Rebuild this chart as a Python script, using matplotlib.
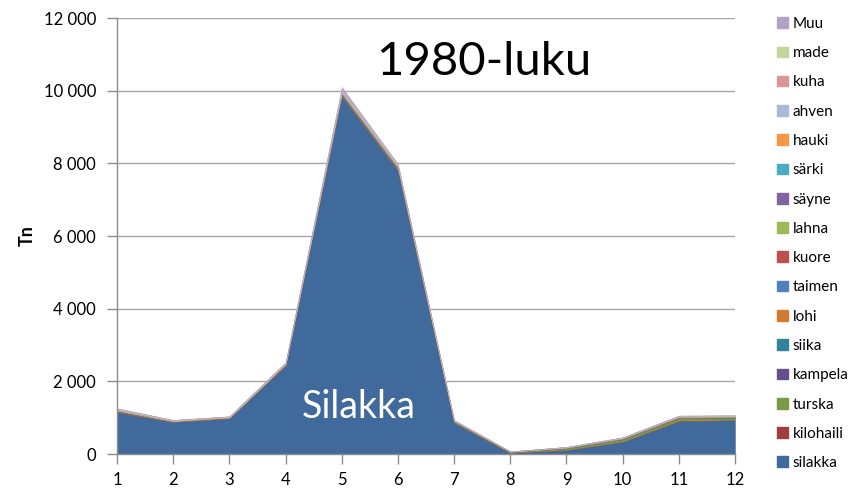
import matplotlib
matplotlib.use("Agg")
import matplotlib.pyplot as plt
from matplotlib.ticker import FuncFormatter
import matplotlib.patches as mpatches

plt.rcParams['font.family'] = ['Lato', 'DejaVu Sans']

months = [1, 2, 3, 4, 5, 6, 7, 8, 9, 10, 11, 12]
species = ["silakka", "kilohaili", "turska", "kampela", "siika", "lohi", "taimen",
           "kuore", "lahna", "säyne", "särki", "hauki", "ahven", "kuha", "made", "Muu"]
colors = ["#40699C", "#A23E3B", "#7A9A45", "#644F8A", "#31849B", "#D27A30", "#4F81BD",
          "#C0504D", "#9BBB59", "#8064A2", "#4BACC6", "#F79646", "#A8B9DA", "#D99694",
          "#C3D69B", "#B3A2C7"]

silakka   = [1150, 880, 980, 2430, 9850, 7800, 860, 30, 110, 330, 900, 930]
kilohaili = [10, 5, 5, 10, 10, 10, 5, 3, 8, 15, 20, 15]
turska    = [20, 10, 10, 15, 40, 40, 25, 20, 40, 60, 70, 55]
kampela   = [2, 2, 2, 2, 5, 5, 2, 1, 2, 3, 4, 3]
siika     = [3, 2, 2, 3, 5, 5, 3, 2, 3, 5, 6, 5]
lohi      = [2, 1, 1, 2, 3, 3, 1, 1, 2, 3, 3, 3]
taimen    = [1, 1, 1, 1, 2, 2, 1, 1, 1, 2, 2, 2]
kuore     = [5, 3, 3, 5, 10, 10, 5, 2, 5, 6, 6, 6]
lahna     = [5, 3, 3, 5, 10, 10, 5, 3, 5, 6, 6, 6]
sayne     = [1, 1, 1, 1, 2, 2, 1, 1, 1, 2, 2, 2]
sarki     = [2, 1, 1, 2, 5, 5, 2, 1, 2, 3, 3, 3]
hauki     = [5, 3, 3, 5, 10, 10, 5, 2, 4, 5, 5, 5]
ahven     = [10, 5, 5, 10, 40, 20, 5, 2, 4, 6, 8, 8]
kuha      = [15, 8, 8, 10, 10, 10, 5, 2, 4, 5, 8, 8]
made      = [20, 10, 10, 15, 20, 15, 5, 2, 4, 5, 8, 8]
muu       = [10, 5, 5, 10, 80, 40, 5, 2, 4, 6, 10, 10]

values = [silakka, kilohaili, turska, kampela, siika, lohi, taimen, kuore, lahna,
          sayne, sarki, hauki, ahven, kuha, made, muu]

fig = plt.figure(figsize=(8.52, 4.92), dpi=100)
ax = fig.add_axes([0.1373, 0.0772, 0.7254, 0.8862])

polys = ax.stackplot(months, *values, colors=colors, labels=species, linewidth=0.3,
                     edgecolor='face', zorder=2)

ax.set_xlim(1, 12)
ax.set_ylim(0, 12000)
ax.set_yticks(range(0, 12001, 2000))
ax.yaxis.set_major_formatter(FuncFormatter(lambda v, p: f"{int(v):,}".replace(",", " ")))
ax.set_xticks(months)
ax.grid(axis='y', color='#A6A6A6', linewidth=1.0, zorder=0)
ax.set_axisbelow(True)
for s in ['top', 'right']:
    ax.spines[s].set_visible(False)
for s in ['left', 'bottom']:
    ax.spines[s].set_color('#8C8C8C')
    ax.spines[s].set_linewidth(1.0)
ax.tick_params(axis='both', colors='#8C8C8C', length=7, width=1.0, labelcolor='black',
               labelsize=12)
ax.tick_params(axis='x', pad=6)
ax.tick_params(axis='y', pad=8)
ax.set_ylabel("Tn", fontsize=13, fontweight='bold', labelpad=6)

fig.text(0.568, 0.873, "1980-luku", fontsize=34, ha='center', va='center')
ax.text(5.3, 1300, "Silakka", fontsize=27, color='white', ha='center', va='center', zorder=5)

handles = [mpatches.Patch(color=c, label=l) for c, l in zip(colors, species)]
handles = handles[::-1]
leg = fig.legend(handles=handles, loc='upper left', bbox_to_anchor=(0.905, 0.978),
                 frameon=False, fontsize=11, handlelength=0.7, handleheight=0.7,
                 handletextpad=0.3, labelspacing=1.0, borderaxespad=0)

fig.savefig("out.png", dpi=100)
